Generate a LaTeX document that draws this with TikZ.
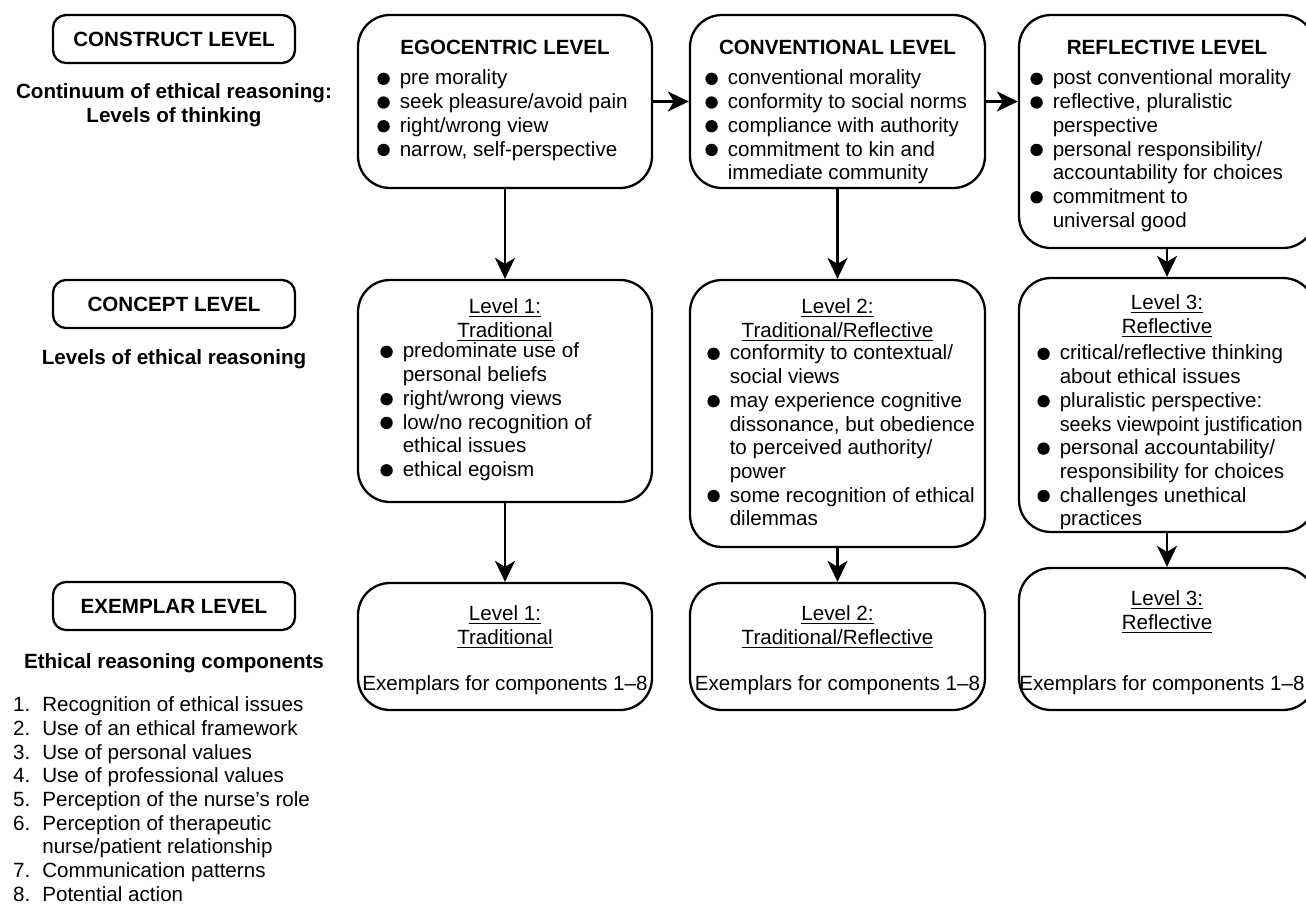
\documentclass[tikz,border=0pt]{standalone}
\usepackage{fontspec}
\setmainfont{Liberation Sans}
\usetikzlibrary{arrows.meta}

\newcommand{\bdot}{\tikz[baseline={(0,-0.3em)}]\fill (0,0) circle (0.3em);}

\begin{document}
\fontsize{10.3}{11.85}\selectfont
\begin{tikzpicture}[x=0.5pt,y=-0.5pt,line width=1.15pt,
  lbl/.style={draw,rounded corners=6.5pt,minimum width=121pt,minimum height=24pt,inner sep=0pt,font=\bfseries},
  box/.style={draw,rounded corners=16pt,inner sep=0pt},
  txt/.style={inner sep=0pt,anchor=north west},
  hd/.style={inner sep=0pt,anchor=north},
  arr/.style={-{Stealth[length=10.5pt,width=10pt,inset=3pt]}}]

\useasboundingbox (0,0) rectangle (1306,905);

% left column
\node[lbl] (lconstruct) at (174,39) {CONSTRUCT LEVEL};
\node[lbl] (lconcept) at (174,304) {CONCEPT LEVEL};
\node[lbl] (lexemplar) at (174,606) {EXEMPLAR LEVEL};
\node[hd,font=\bfseries] (tconstruct) at (174,81)
  {\begin{tabular}{@{}c@{}}Continuum of ethical reasoning:\\Levels of thinking\end{tabular}};
\node[inner sep=0pt,anchor=base,font=\bfseries] (tconcept) at (174,364) {Levels of ethical reasoning};
\node[inner sep=0pt,anchor=base,font=\bfseries] (texemplar) at (174,668) {Ethical reasoning components};
\node[txt] (comps) at (12,694) {\begin{tabular}{@{}r@{\hspace{6pt}}l@{}}
  1. & Recognition of ethical issues\\
  2. & Use of an ethical framework\\
  3. & Use of personal values\\
  4. & Use of professional values\\
  5. & Perception of the nurse's role\\
  6. & Perception of therapeutic\\
     & nurse/patient relationship\\
  7. & Communication patterns\\
  8. & Potential action
  \end{tabular}};

% construct row
\node[box,minimum width=147pt,minimum height=86.5pt] (ego) at (505,101.5) {};
\node[box,minimum width=147.5pt,minimum height=86.5pt] (conv) at (837.5,101.5) {};
\node[box,minimum width=148pt,minimum height=116.5pt] (refl) at (1167,131.5) {};
\node[inner sep=0pt,anchor=base,font=\bfseries] (egoT) at (505,54) {EGOCENTRIC LEVEL};
\node[inner sep=0pt,anchor=base,font=\bfseries] (convT) at (837.5,54) {CONVENTIONAL LEVEL};
\node[inner sep=0pt,anchor=base,font=\bfseries] (reflT) at (1167,54) {REFLECTIVE LEVEL};
\node[txt] (egoL) at (377,68) {\begin{tabular}{@{}c@{\hspace{5pt}}l@{}}
  \bdot & pre morality\\
  \bdot & seek pleasure/avoid pain\\
  \bdot & right/wrong view\\
  \bdot & narrow, self-perspective
  \end{tabular}};
\node[txt] (convL) at (705,68) {\begin{tabular}{@{}c@{\hspace{5pt}}l@{}}
  \bdot & conventional morality\\
  \bdot & conformity to social norms\\
  \bdot & compliance with authority\\
  \bdot & commitment to kin and\\
        & immediate community
  \end{tabular}};
\node[txt] (reflL) at (1030,68) {\begin{tabular}{@{}c@{\hspace{5pt}}l@{}}
  \bdot & post conventional morality\\
  \bdot & reflective, pluralistic\\
        & perspective\\
  \bdot & personal responsibility/\\
        & accountability for choices\\
  \bdot & commitment to\\
        & universal good
  \end{tabular}};

% concept row
\node[box,minimum width=147pt,minimum height=111pt] (lev1) at (505,391) {};
\node[box,minimum width=147.5pt,minimum height=133.5pt] (lev2) at (837.5,413.5) {};
\node[box,minimum width=148pt,minimum height=127pt] (lev3) at (1167,405) {};
\node[hd] (lev1T) at (505,296) {\begin{tabular}{@{}c@{}}\underline{Level 1:}\\\underline{Traditional}\end{tabular}};
\node[hd] (lev2T) at (837.5,296) {\begin{tabular}{@{}c@{}}\underline{Level 2:}\\\underline{Traditional/Reflective}\end{tabular}};
\node[hd] (lev3T) at (1167,292) {\begin{tabular}{@{}c@{}}\underline{Level 3:}\\\underline{Reflective}\end{tabular}};
\node[txt] (lev1L) at (380,341) {\begin{tabular}{@{}c@{\hspace{5pt}}l@{}}
  \bdot & predominate use of\\
        & personal beliefs\\
  \bdot & right/wrong views\\
  \bdot & low/no recognition of\\
        & ethical issues\\
  \bdot & ethical egoism
  \end{tabular}};
\node[txt] (lev2L) at (707,343) {\begin{tabular}{@{}c@{\hspace{5pt}}l@{}}
  \bdot & conformity to contextual/\\
        & social views\\
  \bdot & may experience cognitive\\
        & dissonance, but obedience\\
        & to perceived authority/\\
        & power\\
  \bdot & some recognition of ethical\\
        & dilemmas
  \end{tabular}};
\node[txt] (lev3L) at (1037,343) {\begin{tabular}{@{}c@{\hspace{5pt}}l@{}}
  \bdot & critical/reflective thinking\\
        & about ethical issues\\
  \bdot & pluralistic perspective:\\
        & \scalebox{0.96}[1]{seeks viewpoint justification}\\
  \bdot & personal accountability/\\
        & responsibility for choices\\
  \bdot & challenges unethical\\
        & practices
  \end{tabular}};

% exemplar row
\node[box,minimum width=147pt,minimum height=63.5pt] (ex1) at (505,646.5) {};
\node[box,minimum width=147.5pt,minimum height=63.5pt] (ex2) at (837.5,646.5) {};
\node[box,minimum width=148pt,minimum height=71pt] (ex3) at (1167,639) {};
\node[hd] (ex1T) at (505,603) {\begin{tabular}{@{}c@{}}\underline{Level 1:}\\\underline{Traditional}\end{tabular}};
\node[hd] (ex2T) at (837.5,603) {\begin{tabular}{@{}c@{}}\underline{Level 2:}\\\underline{Traditional/Reflective}\end{tabular}};
\node[hd] (ex3T) at (1167,588) {\begin{tabular}{@{}c@{}}\underline{Level 3:}\\\underline{Reflective}\end{tabular}};
\foreach \n/\x in {ex1/505,ex2/837.5,ex3/1162}
  \node[inner sep=0pt,anchor=base] (\n E) at (\x,690) {Exemplars for components 1--8};

% arrows
\draw[arr] (ego) -- (conv);
\draw[arr] (conv.east) -- (conv.east -| refl.west);
\foreach \a/\b in {ego/lev1,conv/lev2,refl/lev3,lev1/ex1,lev2/ex2,lev3/ex3}
  \draw[arr] (\a) -- (\b);
\end{tikzpicture}
\end{document}
